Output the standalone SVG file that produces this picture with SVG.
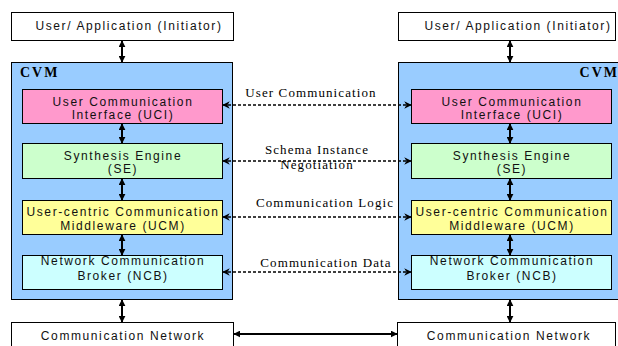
<svg xmlns="http://www.w3.org/2000/svg" width="618" height="346" viewBox="0 0 618 346">
<style>
.box{stroke:#000;stroke-width:1}
.t{font-family:"Liberation Sans",Arial,sans-serif;font-size:12px;letter-spacing:1.6px;text-anchor:middle;fill:#111}
.s{font-family:"Liberation Serif","Times New Roman",serif;font-size:13px;letter-spacing:1.1px;text-anchor:middle;fill:#000}
.cvm{font-family:"Liberation Serif","Times New Roman",serif;font-size:14px;font-weight:bold;letter-spacing:2px;fill:#000}
.v{stroke:#000;stroke-width:2;fill:none;marker-start:url(#ah);marker-end:url(#ah)}
.d{stroke:#000;stroke-width:1.5;stroke-dasharray:3 2;fill:none;marker-start:url(#dh);marker-end:url(#dh)}
</style>
<defs>
<marker id="ah" viewBox="0 0 10 10" refX="9" refY="5" markerWidth="3.5" markerHeight="3.5" orient="auto-start-reverse" markerUnits="strokeWidth">
<path d="M0,0 L10,5 L0,10 z" fill="#000"/>
</marker>
<marker id="dh" viewBox="0 0 10 10" refX="9" refY="5" markerWidth="5" markerHeight="5" orient="auto-start-reverse" markerUnits="strokeWidth">
<path d="M0,0 L10,5 L0,10 L3,5 z" fill="#000"/>
</marker>
</defs>
<rect width="618" height="346" fill="#fff"/>

<g id="left-user">
<rect class="box" x="11.5" y="12.5" width="222" height="28" fill="#fff"/>
<text class="t" x="129" y="30">User/ Application (Initiator)</text>
</g>
<g id="left-cvm">
<rect class="box" x="11.5" y="62.5" width="221" height="237" fill="#99ccff"/>
<text class="cvm" x="20" y="77">CVM</text>
</g>
<g id="left-uci">
<rect class="box" x="22.5" y="89.5" width="200" height="34" fill="#ff99cc"/>
<text class="t" x="123" y="105.5">User Communication</text>
<text class="t" x="123" y="119">Interface (UCI)</text>
</g>
<g id="left-se">
<rect class="box" x="22.5" y="143.5" width="200" height="35" fill="#ccffcc"/>
<text class="t" x="123" y="159.5">Synthesis Engine</text>
<text class="t" x="123" y="173">(SE)</text>
</g>
<g id="left-ucm">
<rect class="box" x="22.5" y="200.5" width="200" height="34" fill="#ffff99"/>
<text class="t" x="123" y="215.5">User-centric Communication</text>
<text class="t" x="123" y="229.5">Middleware (UCM)</text>
</g>
<g id="left-ncb">
<rect class="box" x="22.5" y="255.5" width="200" height="34" fill="#ccffff"/>
<text class="t" x="123" y="265">Network Communication</text>
<text class="t" x="123" y="279.5">Broker (NCB)</text>
</g>
<g id="left-net">
<rect class="box" x="11.5" y="322.5" width="222" height="30" fill="#fff"/>
<text class="t" x="123" y="340">Communication Network</text>
</g>

<g id="right-user">
<rect class="box" x="398.5" y="12.5" width="217" height="28" fill="#fff"/>
<text class="t" x="518" y="30">User/ Application (Initiator)</text>
</g>
<g id="right-cvm">
<rect class="box" x="398.5" y="62.5" width="225" height="237" fill="#99ccff"/>
<text class="cvm" x="619" y="77" text-anchor="end">CVM</text>
</g>
<g id="right-uci">
<rect class="box" x="411.5" y="89.5" width="200" height="34" fill="#ff99cc"/>
<text class="t" x="512" y="105.5">User Communication</text>
<text class="t" x="512" y="119">Interface (UCI)</text>
</g>
<g id="right-se">
<rect class="box" x="411.5" y="143.5" width="200" height="35" fill="#ccffcc"/>
<text class="t" x="512" y="159.5">Synthesis Engine</text>
<text class="t" x="512" y="173">(SE)</text>
</g>
<g id="right-ucm">
<rect class="box" x="411.5" y="200.5" width="200" height="34" fill="#ffff99"/>
<text class="t" x="512" y="215.5">User-centric Communication</text>
<text class="t" x="512" y="229.5">Middleware (UCM)</text>
</g>
<g id="right-ncb">
<rect class="box" x="411.5" y="255.5" width="200" height="34" fill="#ccffff"/>
<text class="t" x="512" y="265">Network Communication</text>
<text class="t" x="512" y="279.5">Broker (NCB)</text>
</g>
<g id="right-net">
<rect class="box" x="397.5" y="322.5" width="218" height="30" fill="#fff"/>
<text class="t" x="509" y="340">Communication Network</text>
</g>

<g id="connectors">
<line class="v" x1="122" y1="41" x2="122" y2="62"/>
<line class="v" x1="122" y1="124" x2="122" y2="143"/>
<line class="v" x1="122" y1="179" x2="122" y2="200"/>
<line class="v" x1="122" y1="235" x2="122" y2="255"/>
<line class="v" x1="122" y1="300" x2="122" y2="322"/>
<line class="v" x1="510" y1="41" x2="510" y2="62"/>
<line class="v" x1="510" y1="124" x2="510" y2="143"/>
<line class="v" x1="510" y1="179" x2="510" y2="200"/>
<line class="v" x1="510" y1="235" x2="510" y2="255"/>
<line class="v" x1="510" y1="300" x2="510" y2="322"/>
<line class="v" x1="234" y1="334" x2="397" y2="334"/>
<line class="d" x1="223" y1="105" x2="411" y2="105"/>
<line class="d" x1="223" y1="161" x2="411" y2="161"/>
<line class="d" x1="223" y1="217" x2="411" y2="217"/>
<line class="d" x1="223" y1="272" x2="411" y2="272"/>
<text class="s" x="311" y="97">User Communication</text>
<text class="s" x="317" y="154">Schema Instance</text>
<text class="s" x="317" y="169">Negotiation</text>
<text class="s" x="325" y="207">Communication Logic</text>
<text class="s" x="326" y="267">Communication Data</text>
</g>
</svg>
